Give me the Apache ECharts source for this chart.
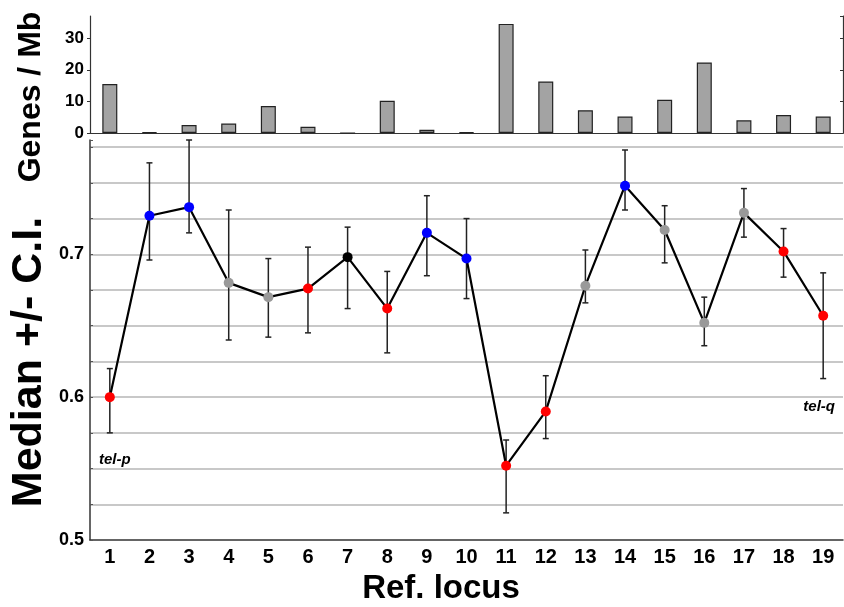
<!doctype html>
<html lang="en">
<head>
    <meta charset="UTF-8">
    <title>Genes / Mb and median per ref. locus</title>
    <script src="https://cdn.jsdelivr.net/npm/echarts@6/dist/echarts.min.js"></script>
    <style>
        html, body { margin: 0; padding: 0; background: #fff; }
        #main { width: 844px; height: 607px; }
    </style>
</head>
<body>
<div id="main"></div>
<script type="text/javascript">
    // loci on the x axis
    var loci = ['1','2','3','4','5','6','7','8','9','10','11','12','13','14','15','16','17','18','19'];
    // genes per Mb (top panel)
    var genesPerMb = [15.5, 0.2, 2.5, 3, 8.5, 2, 0, 10.2, 1, 0.2, 34.5, 16.3, 7.2, 5.2, 10.5, 22.3, 4, 5.7, 5.2];
    // median with confidence interval (bottom panel)
    var median = [0.600, 0.727, 0.733, 0.680, 0.670, 0.676, 0.698, 0.662, 0.715, 0.697, 0.552, 0.590, 0.678, 0.748, 0.717, 0.652, 0.729, 0.702, 0.657];
    var ciLow  = [0.575, 0.696, 0.715, 0.640, 0.642, 0.645, 0.662, 0.631, 0.685, 0.669, 0.519, 0.571, 0.666, 0.731, 0.694, 0.636, 0.712, 0.684, 0.613];
    var ciHigh = [0.620, 0.764, 0.780, 0.731, 0.697, 0.705, 0.719, 0.688, 0.741, 0.725, 0.570, 0.615, 0.703, 0.773, 0.734, 0.670, 0.746, 0.718, 0.687];
    var pointColors = ['#ff0000','#0000ff','#0000ff','#999999','#999999','#ff0000','#000000','#ff0000','#0000ff','#0000ff',
                       '#ff0000','#ff0000','#999999','#0000ff','#999999','#999999','#999999','#ff0000','#ff0000'];

    var FONT = '"Liberation Sans", Arial, Helvetica, sans-serif';
    var myChart = echarts.init(document.getElementById('main'), null, {renderer: 'canvas'});

    var errData = [];
    for (var i = 0; i < loci.length; i++) {
        errData.push([i, ciLow[i], ciHigh[i]]);
    }

    // only label 0.5, 0.6, 0.7 on the lower axis
    function tenth(v) {
        var t = v * 10;
        return Math.abs(t - Math.round(t)) < 1e-6 ? v.toFixed(1) : '';
    }

    var option = {
        backgroundColor: '#ffffff',
        animation: false,
        textStyle: { fontFamily: FONT },
        grid: [
            { left: 90, right: 1, top: 16, height: 117 },
            { left: 90, right: 1, top: 140, height: 400 }
        ],
        xAxis: [
            {
                type: 'category', gridIndex: 0, data: loci,
                axisLine: { lineStyle: { color: '#333', width: 1.2 } },
                axisTick: { alignWithLabel: true, length: 3, lineStyle: { color: '#333' } },
                axisLabel: { show: false }
            },
            {
                type: 'category', gridIndex: 0, data: loci, position: 'top',
                axisLine: { lineStyle: { color: '#333', width: 1.2 } },
                axisTick: { alignWithLabel: true, inside: true, length: 3, lineStyle: { color: '#333' } },
                axisLabel: { show: false }
            },
            {
                type: 'category', gridIndex: 1, data: loci,
                axisLine: { lineStyle: { color: '#333', width: 1.5 } },
                axisTick: { alignWithLabel: true, length: 4, lineStyle: { color: '#333' } },
                axisLabel: { color: '#000', fontSize: 20, fontWeight: 'bold', fontFamily: FONT, margin: 7 }
            }
        ],
        yAxis: [
            {
                type: 'value', gridIndex: 0, min: 0, max: 37, interval: 10,
                axisLine: { show: true, lineStyle: { color: '#333', width: 1.2 } },
                axisTick: { show: true, length: 3, lineStyle: { color: '#333' } },
                axisLabel: { color: '#000', fontSize: 17, fontWeight: 'bold', fontFamily: FONT, margin: 6, showMaxLabel: false },
                splitLine: { show: false }
            },
            {
                type: 'value', gridIndex: 0, min: 0, max: 37, interval: 10, position: 'right',
                axisLine: { show: true, lineStyle: { color: '#333', width: 1.2 } },
                axisTick: { show: true, inside: true, length: 3, lineStyle: { color: '#333' } },
                axisLabel: { show: false },
                splitLine: { show: false }
            },
            {
                type: 'value', gridIndex: 1, min: 0.5, max: 0.78, interval: 0.025,
                axisLine: { show: true, lineStyle: { color: '#333', width: 1.5 } },
                axisTick: { show: true, inside: true, length: 3, lineStyle: { color: '#555' } },
                axisLabel: { color: '#000', fontSize: 18, fontWeight: 'bold', fontFamily: FONT, margin: 6, formatter: tenth },
                splitLine: { show: true, showMinLine: false, showMaxLine: false, lineStyle: { color: '#c8c8c8', width: 2 } }
            }
        ],
        graphic: [
            {
                type: 'text', x: 31, y: 97, rotation: Math.PI / 2,
                style: { text: 'Genes / Mb', fill: '#000', font: 'bold 32px ' + FONT, textAlign: 'center', textVerticalAlign: 'middle' }
            },
            {
                type: 'text', x: 29, y: 362, rotation: Math.PI / 2,
                style: { text: 'Median +/- C.I.', fill: '#000', font: 'bold 43px ' + FONT, textAlign: 'center', textVerticalAlign: 'middle' }
            },
            {
                type: 'text', x: 441, y: 589,
                style: { text: 'Ref. locus', fill: '#000', font: 'bold 33px ' + FONT, textAlign: 'center', textVerticalAlign: 'middle' }
            }
        ],
        series: [
            {
                name: 'Genes / Mb', type: 'bar', xAxisIndex: 0, yAxisIndex: 0,
                data: genesPerMb, barWidth: 15,
                itemStyle: { color: '#a3a3a3', borderColor: '#222', borderWidth: 1.2 }
            },
            {
                name: 'C.I.', type: 'custom', xAxisIndex: 2, yAxisIndex: 2,
                data: errData, z: 2, clip: false,
                renderItem: function (params, api) {
                    var x = api.value(0);
                    var lo = api.coord([x, api.value(1)]);
                    var hi = api.coord([x, api.value(2)]);
                    var w = 3;
                    var st = { stroke: '#222', lineWidth: 1.5 };
                    return {
                        type: 'group',
                        children: [
                            { type: 'line', shape: { x1: lo[0], y1: lo[1], x2: hi[0], y2: hi[1] }, style: st },
                            { type: 'line', shape: { x1: lo[0] - w, y1: lo[1], x2: lo[0] + w, y2: lo[1] }, style: st },
                            { type: 'line', shape: { x1: hi[0] - w, y1: hi[1], x2: hi[0] + w, y2: hi[1] }, style: st }
                        ]
                    };
                }
            },
            {
                name: 'Median', type: 'line', xAxisIndex: 2, yAxisIndex: 2,
                data: median, z: 3,
                symbol: 'circle', symbolSize: 10,
                lineStyle: { color: '#000', width: 2.2 },
                itemStyle: {
                    color: function (p) { return pointColors[p.dataIndex]; },
                    borderWidth: 0
                },
                markPoint: {
                    symbol: 'circle', symbolSize: 0, silent: true,
                    label: { show: true, color: '#000', fontSize: 15, fontWeight: 'bold', fontStyle: 'italic', fontFamily: FONT },
                    data: [
                        { coord: [0, 0.556], value: 'tel-p', label: { formatter: 'tel-p', offset: [5, 0] } },
                        { coord: [18, 0.593], value: 'tel-q', label: { formatter: 'tel-q', offset: [-4, 0] } }
                    ]
                }
            }
        ]
    };

    myChart.setOption(option);
</script>
</body>
</html>
